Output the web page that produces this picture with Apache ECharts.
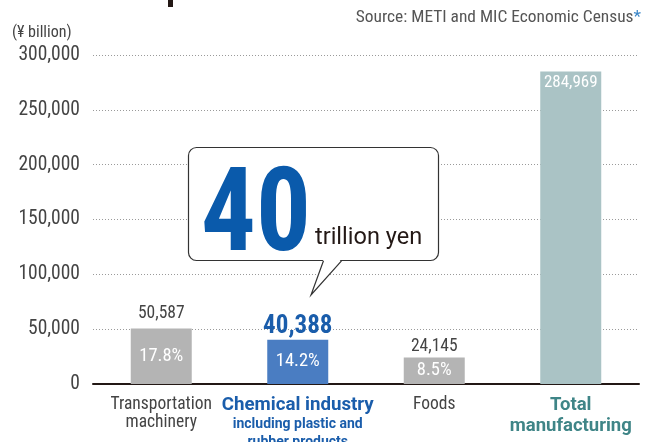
<!DOCTYPE html>
<html>
<head>
<meta charset="utf-8">
<script src="https://cdn.jsdelivr.net/npm/echarts@6/dist/echarts.min.js"></script>
<style>
  html, body { margin: 0; padding: 0; background: #fff; }
  #chart { width: 645px; height: 442px; }
</style>
</head>
<body>
<div id="chart"></div>
<script>
// Manufacturing shipment values by industry (¥ billion)
const categories = ['Transportation machinery', 'Chemical industry', 'Foods', 'Total manufacturing'];
const shipments = [50587, 40388, 24145, 284969];
const shares = ['17.8%', '14.2%', '8.5%', ''];
const axisMin = 0;
const axisMax = 300000;
const axisStep = 50000;

const COND = '"Roboto Condensed", "Open Sans", sans-serif';
const WIDE = 'Roboto, "Open Sans", sans-serif';
const GRAY_TEXT = '#444444';
const BLUE_TEXT = '#1a5dab';
const TEAL_TEXT = '#3f8587';

const barColors = ['#b4b4b4', '#4a7dc2', '#b4b4b4', '#aac3c5'];

const fmt = v => v.toLocaleString('en-US');

const chart = echarts.init(document.getElementById('chart'), null, { renderer: 'canvas' });

// Category label markup per bar
const categoryRich = [
  '{g|Transportation}\n{g|machinery}',
  '{cb|Chemical industry}\n{cs|including plastic and}\n{cs|rubber products}',
  '{g|Foods}',
  '{tb|Total}\n{tb2|manufacturing}'
];

// Main bars carry the share label inside
const mainData = shipments.map((v, i) => {
  const item = { value: v, itemStyle: { color: barColors[i] } };
  if (i === shipments.length - 1) {
    item.label = {
      show: true, position: 'insideTop', distance: 3,
      formatter: fmt(v), color: '#ffffff',
      fontFamily: COND, fontSize: 17
    };
  } else {
    item.label = {
      show: true, position: 'inside',
      formatter: shares[i], color: '#ffffff',
      fontFamily: COND, fontSize: 18.5
    };
  }
  return item;
});

// Value labels above the first three bars
const valueLabelStyle = [
  { color: GRAY_TEXT, fontFamily: COND, fontSize: 17.5, distance: 6 },
  { color: BLUE_TEXT, fontFamily: COND, fontWeight: 'bold', fontSize: 25, distance: 0 },
  { color: GRAY_TEXT, fontFamily: COND, fontSize: 17.5, distance: 2 },
  null
];
const topData = shipments.map((v, i) => {
  const s = valueLabelStyle[i];
  if (!s) return { value: v, label: { show: false } };
  return {
    value: v,
    label: Object.assign({ show: true, position: 'top', formatter: fmt(v) }, s)
  };
});

const option = {
  animation: false,
  backgroundColor: '#ffffff',
  grid: { left: 93, right: 6, top: 55, bottom: 58, containLabel: false, outerBoundsMode: 'none' },
  xAxis: {
    type: 'category',
    data: categories,
    axisLine: { show: true, lineStyle: { color: '#231815', width: 2 } },
    axisTick: { show: false },
    axisLabel: {
      margin: 12,
      interval: 0,
      formatter: (val, idx) => categoryRich[idx],
      rich: {
        g: { color: GRAY_TEXT, fontFamily: COND, fontSize: 17.5, lineHeight: 18 },
        cb: { color: BLUE_TEXT, fontFamily: WIDE, fontWeight: 'bold', fontSize: 18.7, lineHeight: 19 },
        cs: { color: BLUE_TEXT, fontFamily: WIDE, fontWeight: 'bold', fontSize: 14, lineHeight: 18 },
        tb: { color: TEAL_TEXT, fontFamily: WIDE, fontWeight: 'bold', fontSize: 18.5, lineHeight: 19 },
        tb2: { color: TEAL_TEXT, fontFamily: WIDE, fontWeight: 'bold', fontSize: 18.5, lineHeight: 23 }
      }
    }
  },
  yAxis: {
    type: 'value',
    min: axisMin,
    max: axisMax,
    interval: axisStep,
    axisLine: { show: false },
    axisTick: { show: false },
    axisLabel: {
      margin: 13,
      color: GRAY_TEXT,
      fontFamily: COND,
      fontSize: 19.5,
      formatter: v => fmt(v)
    },
    splitLine: { show: true, lineStyle: { color: '#9a9a9a', width: 1, type: [1, 2] } }
  },
  series: [
    {
      type: 'bar',
      data: mainData,
      barWidth: 61,
      barGap: '-100%',
      z: 2
    },
    {
      type: 'bar',
      data: topData,
      barWidth: 61,
      barGap: '-100%',
      itemStyle: { color: 'rgba(0,0,0,0)' },
      silent: true,
      z: 3
    }
  ],
  graphic: [
    // cut-off heading glyph at the top edge
    { type: 'rect', z: 50, shape: { x: 168, y: 0, width: 5, height: 7 }, style: { fill: '#231815' } },
    {
      type: 'text', z: 50, x: 12, y: 33,
      style: { text: '(¥ billion)', fill: GRAY_TEXT, font: '16px ' + COND, align: 'left', verticalAlign: 'middle' }
    },
    {
      type: 'text', z: 50, x: 641, y: 18,
      style: {
        text: '{s|Source: METI and MIC Economic Census}{a|*}',
        align: 'right', verticalAlign: 'middle',
        rich: {
          s: { fill: '#555555', fontFamily: COND, fontSize: 17.4 },
          a: { fill: '#3a86c8', fontFamily: COND, fontSize: 17.4, verticalAlign: 'top' }
        }
      }
    },
    // speech bubble
    {
      type: 'rect', z: 60,
      shape: { x: 188.5, y: 147.5, width: 250, height: 113, r: 8 },
      style: { fill: '#ffffff', stroke: '#333333', lineWidth: 1.2 }
    },
    {
      type: 'polygon', z: 61,
      shape: { points: [[323.5, 259], [311, 295], [341.5, 259]] },
      style: { fill: '#ffffff', stroke: null }
    },
    {
      type: 'polyline', z: 62,
      shape: { points: [[323.5, 260.8], [311, 295], [341.5, 260.8]] },
      style: { stroke: '#333333', lineWidth: 1.2, fill: null }
    },
    {
      type: 'text', z: 63, x: 256, y: 221, scaleX: 0.93,
      style: {
        text: '40', fill: '#0a5aab',
        font: 'bold 117px ' + COND,
        align: 'center', verticalAlign: 'middle'
      }
    },
    {
      type: 'text', z: 63, x: 315, y: 238,
      style: {
        text: 'trillion yen', fill: '#231815',
        font: '23.5px ' + WIDE,
        align: 'left', verticalAlign: 'middle'
      }
    }
  ]
};

chart.setOption(option);
</script>
</body>
</html>
